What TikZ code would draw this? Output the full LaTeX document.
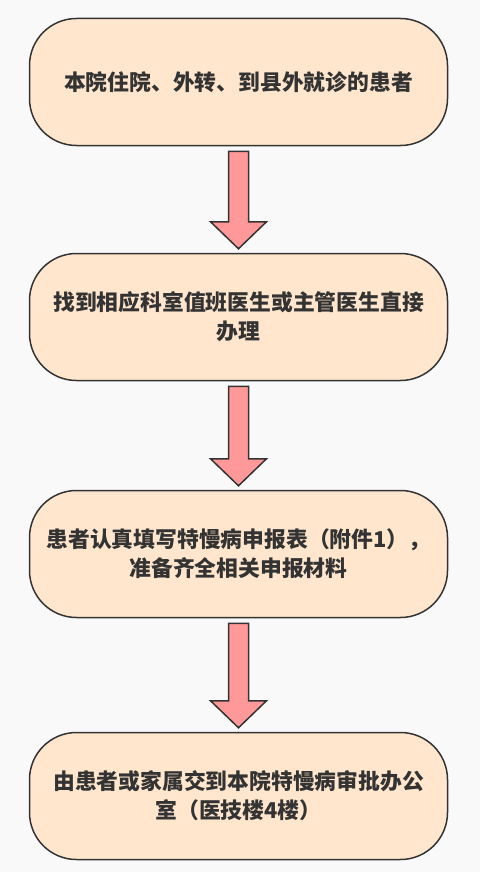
\documentclass[tikz,border=0pt]{standalone}
\usepackage{fontspec}
\setmainfont{Noto Sans CJK SC}
\usetikzlibrary{calc}
\definecolor{bg}{HTML}{F9F9F9}
\definecolor{boxfill}{HTML}{FFE6CC}
\definecolor{edge}{HTML}{333333}
\definecolor{arrfill}{HTML}{FF9999}
\tikzset{
  stepbox/.style={draw=edge, line width=1.5pt, fill=boxfill, rounded corners=47pt,
    minimum width=418pt, minimum height=127pt, align=center, text=edge,
    font=\fontsize{21.8pt}{29pt}\selectfont\bfseries, inner sep=0pt},
  blockarr/.style={draw=edge, line width=1.5pt, fill=arrfill, line join=miter}
}
\newcommand{\blockarrow}[2]{%
  \draw[blockarr] let \p1=(#1.south), \p2=(#2.north) in
    (\x1-10pt,\y1-5pt) -- (\x1+10pt,\y1-5pt) -- (\x1+10pt,\y2+31pt) --
    (\x1+28pt,\y2+31pt) -- (\x1,\y2+4pt) -- (\x1-28pt,\y2+31pt) --
    (\x1-10pt,\y2+31pt) -- cycle;}
\begin{document}
\begin{tikzpicture}[x=1pt,y=-1pt]
\fill[bg] (0,0) rectangle (480,872);
\useasboundingbox (0,0) rectangle (480,872);
\node[stepbox] (b1) at (238.5,82) {本院住院、外转、到县外就诊的患者};
\node[stepbox] (b2) at (238.5,317) {找到相应科室值班医生或主管医生直接\\办理};
\node[stepbox] (b3) at (238.5,554) {患者认真填写特慢病申报表（附件1），\\准备齐全相关申报材料};
\node[stepbox] (b4) at (238.5,796) {由患者或家属交到本院特慢病审批办公\\室（医技楼4楼）};
\blockarrow{b1}{b2}
\blockarrow{b2}{b3}
\blockarrow{b3}{b4}
\end{tikzpicture}
\end{document}
